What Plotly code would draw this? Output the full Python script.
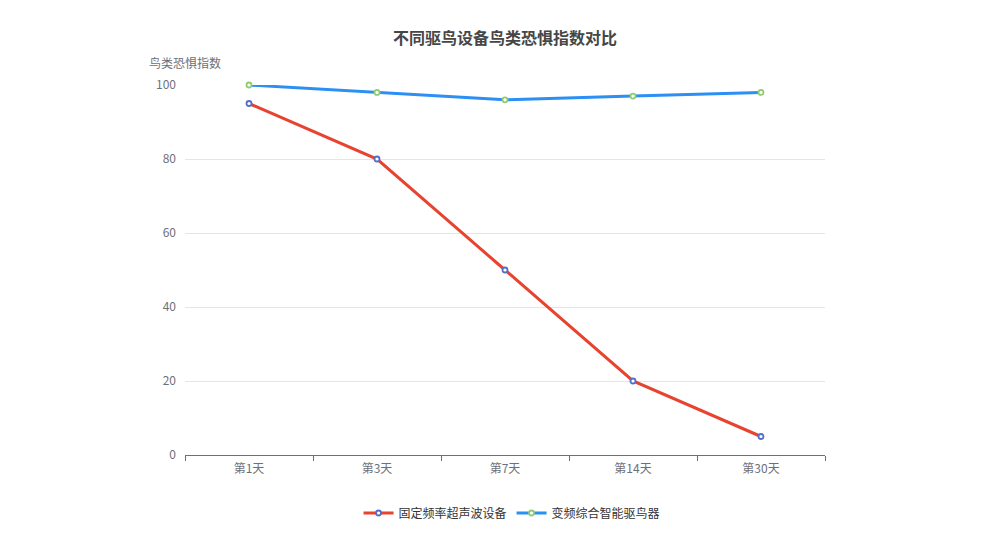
import plotly.graph_objects as go

categories = ["第1天", "第3天", "第7天", "第14天", "第30天"]
fixed_freq = [95, 80, 50, 20, 5]
smart_var = [100, 98, 96, 97, 98]
series_names = ["固定频率超声波设备", "变频综合智能驱鸟器"]
y_ticks = [0, 20, 40, 60, 80, 100]

FONT = "Noto Sans CJK SC, sans-serif"

fig = go.Figure()
fig.add_trace(go.Scatter(
    x=categories, y=fixed_freq, name=series_names[0], mode="lines+markers", cliponaxis=False,
    line=dict(color="#e8432e", width=3),
    marker=dict(symbol="circle", size=5, color="white", line=dict(color="#5470c6", width=1.8)),
))
fig.add_trace(go.Scatter(
    x=categories, y=smart_var, name=series_names[1], mode="lines+markers", cliponaxis=False,
    line=dict(color="#2b8ff4", width=3),
    marker=dict(symbol="circle", size=5, color="white", line=dict(color="#91cc75", width=1.8)),
))

fig.update_layout(
    width=983, height=551,
    margin=dict(l=177, r=166, t=77, b=104),
    paper_bgcolor="white", plot_bgcolor="white",
    font=dict(family=FONT, size=12, color="#6e7079"),
    title=dict(text="<b>不同驱鸟设备鸟类恐惧指数对比</b>", x=0.5, xref="paper", xanchor="center",
               y=1 - 30 / 551, yanchor="middle", font=dict(size=16, color="#464646", family=FONT)),
    showlegend=True,
    legend=dict(orientation="h", x=0.511, xanchor="center", y=-(513 - 455) / 370, yanchor="middle",
                font=dict(size=12, color="#333333", family=FONT), itemwidth=30),
    xaxis=dict(
        type="category", tickson="boundaries", range=[-0.5, 4.5],
        showline=True, linecolor="#6e7079", linewidth=1,
        ticks="outside", ticklen=5, tickcolor="#6e7079", ticklabelstandoff=3,
        showgrid=False, tickfont=dict(size=12, color="#6e7079"), fixedrange=True,
    ),
    yaxis=dict(
        range=[0, 100], tickvals=y_ticks, showline=False, zeroline=False,
        showgrid=True, gridcolor="#e0e6f1", gridwidth=1,
        ticks="", ticklabelstandoff=8, tickfont=dict(size=12, color="#6e7079"), fixedrange=True,
    ),
    annotations=[dict(text="鸟类恐惧指数", xref="paper", yref="paper", x=0, y=1 + (85 - 63) / 370,
                      xanchor="center", yanchor="middle", showarrow=False,
                      font=dict(size=12, color="#6e7079", family=FONT))],
)

fig.write_html("out.html")
